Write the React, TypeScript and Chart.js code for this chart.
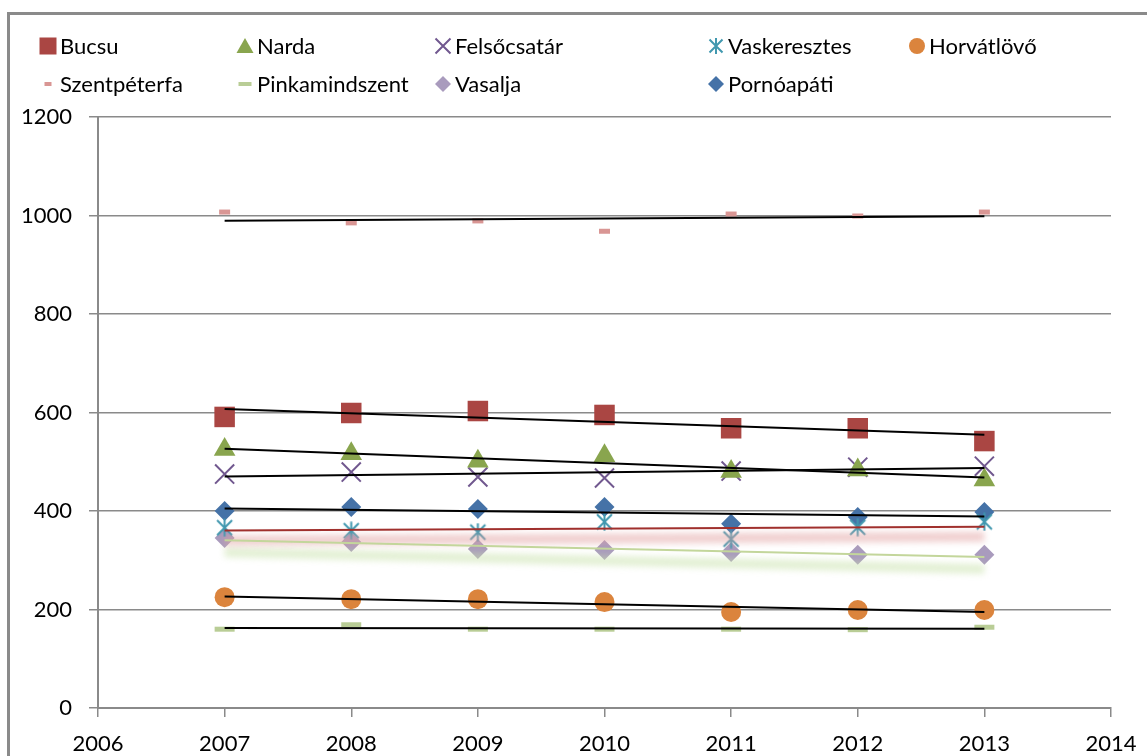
import React, { useEffect, useRef } from 'react';
import { Chart, registerables } from 'chart.js';
Chart.register(...registerables);

const years = [2007, 2008, 2009, 2010, 2011, 2012, 2013];
const xTickMin = 2006;
const xTickMax = 2014;
const yTickMax = 1200;
const yTickStep = 200;

const bucsu = [591, 599, 603, 595, 568, 568, 542];
const narda = [525, 516, 501, 512, 480, 483, 463];
const felsocsatar = [475, 479, 469, 467, 481, 489, 491];
const vaskeresztes = [366, 360, 357, 378, 343, 367, 378];
const horvatlovo = [225, 221, 221, 215, 195, 199, 199];
const szentpeterfa = [1007, 985, 989, 968, 1003, 999, 1007];
const pinkamindszent = [160, 169, 160, 160, 160, 159, 164];
const vasalja = [345, 337, 323, 321, 317, 311, 311];
const pornoapati = [400, 408, 404, 408, 374, 388, 398];

type Series = {
  label: string;
  values: number[];
  color: string;
  marker: 'rect' | 'triangle' | 'crossRot' | 'star' | 'circle' | 'dashS' | 'dashL' | 'diamond';
  trendColor: string;
  glow?: { color: string; dy: number };
};

const series: Series[] = [
  { label: 'Bucsu', values: bucsu, color: '#AA4643', marker: 'rect', trendColor: '#000' },
  { label: 'Narda', values: narda, color: '#89A54E', marker: 'triangle', trendColor: '#000' },
  { label: 'Felsőcsatár', values: felsocsatar, color: '#71588F', marker: 'crossRot', trendColor: '#000' },
  { label: 'Vaskeresztes', values: vaskeresztes, color: '#4198AF', marker: 'star', trendColor: '#A0302D', glow: { color: 'rgba(225,160,160,0.5)', dy: 10 } },
  { label: 'Horvátlövő', values: horvatlovo, color: '#DB843D', marker: 'circle', trendColor: '#000' },
  { label: 'Szentpéterfa', values: szentpeterfa, color: '#D99694', marker: 'dashS', trendColor: '#000' },
  { label: 'Pinkamindszent', values: pinkamindszent, color: '#B9CD96', marker: 'dashL', trendColor: '#000' },
  { label: 'Vasalja', values: vasalja, color: '#A99BBD', marker: 'diamond', trendColor: '#C3D69B', glow: { color: 'rgba(200,225,170,0.5)', dy: 12 } },
  { label: 'Pornóapáti', values: pornoapati, color: '#4572A7', marker: 'diamond', trendColor: '#000' },
];

const FONT = 'Lato';
const GRID = '#8a8a8a';
const LEGEND_COLS = [48, 245, 443, 716, 917];
const LEGEND_ROWS = [46, 84];

function makeStar(size: number, color: string) {
  const c = document.createElement('canvas');
  c.width = size;
  c.height = size;
  const g = c.getContext('2d')!;
  g.strokeStyle = color;
  g.lineWidth = 2;
  const m = 2;
  g.beginPath();
  g.moveTo(m, m); g.lineTo(size - m, size - m);
  g.moveTo(size - m, m); g.lineTo(m, size - m);
  g.moveTo(size / 2, 0.5); g.lineTo(size / 2, size - 0.5);
  g.stroke();
  return c;
}

function drawMarker(ctx: CanvasRenderingContext2D, s: Series, x: number, y: number) {
  ctx.save();
  ctx.fillStyle = s.color;
  ctx.strokeStyle = s.color;
  ctx.beginPath();
  switch (s.marker) {
    case 'rect':
      ctx.fillRect(x - 8.5, y - 8.5, 17, 17);
      break;
    case 'triangle':
      ctx.moveTo(x, y - 8); ctx.lineTo(x + 8.5, y + 7); ctx.lineTo(x - 8.5, y + 7); ctx.closePath(); ctx.fill();
      break;
    case 'crossRot':
      ctx.lineWidth = 2;
      ctx.moveTo(x - 7.5, y - 7.5); ctx.lineTo(x + 7.5, y + 7.5);
      ctx.moveTo(x + 7.5, y - 7.5); ctx.lineTo(x - 7.5, y + 7.5);
      ctx.stroke();
      break;
    case 'star':
      ctx.lineWidth = 2;
      ctx.moveTo(x - 6.5, y - 6.5); ctx.lineTo(x + 6.5, y + 6.5);
      ctx.moveTo(x + 6.5, y - 6.5); ctx.lineTo(x - 6.5, y + 6.5);
      ctx.moveTo(x, y - 8); ctx.lineTo(x, y + 8);
      ctx.stroke();
      break;
    case 'circle':
      ctx.arc(x, y, 8, 0, Math.PI * 2); ctx.fill();
      break;
    case 'dashS':
      ctx.fillRect(x - 3.5, y - 2, 7, 4);
      break;
    case 'dashL':
      ctx.fillRect(x - 6.5, y - 2, 13, 4);
      break;
    case 'diamond':
      ctx.moveTo(x, y - 8); ctx.lineTo(x + 8, y); ctx.lineTo(x, y + 8); ctx.lineTo(x - 8, y); ctx.closePath(); ctx.fill();
      break;
  }
  ctx.restore();
}

const legendPlugin = {
  id: 'gridLegend',
  afterDraw(chart: any) {
    const ctx = chart.ctx as CanvasRenderingContext2D;
    ctx.save();
    ctx.font = `22px ${FONT}`;
    ctx.textBaseline = 'middle';
    series.forEach((s, i) => {
      const row = i < 5 ? 0 : 1;
      const col = i < 5 ? i : i - 5;
      const cx = LEGEND_COLS[col];
      const cy = LEGEND_ROWS[row];
      drawMarker(ctx, s, cx, cy);
      ctx.fillStyle = '#000';
      ctx.fillText(s.label, cx + 12, cy + 1);
    });
    ctx.restore();
  },
};

const glowPlugin = {
  id: 'trendGlow',
  beforeDatasetDraw(chart: any, args: any) {
    const ds = chart.data.datasets[args.index];
    if (ds.glowDy) {
      const ctx = chart.ctx;
      ctx.save();
      ctx.translate(0, ds.glowDy);
      ctx.filter = 'blur(3px)';
    }
  },
  afterDatasetDraw(chart: any, args: any) {
    const ds = chart.data.datasets[args.index];
    if (ds.glowDy) chart.ctx.restore();
  },
};

function trendPoints(values: number[]) {
  const n = years.length;
  const mx = years.reduce((a, b) => a + b, 0) / n;
  const my = values.reduce((a, b) => a + b, 0) / n;
  let sxy = 0, sxx = 0;
  years.forEach((x, i) => { sxy += (x - mx) * (values[i] - my); sxx += (x - mx) * (x - mx); });
  const b = sxy / sxx;
  const a = my - b * mx;
  const x0 = years[0], x1 = years[n - 1];
  return [{ x: x0, y: a + b * x0 }, { x: x1, y: a + b * x1 }];
}

export default function App() {
  const ref = useRef<HTMLCanvasElement>(null);
  useEffect(() => {
    if (!ref.current) return;
    const markerDatasets = series.map((s) => {
      const base: any = {
        label: s.label,
        data: years.map((x, i) => ({ x, y: s.values[i] })),
        showLine: false,
        order: 2,
        backgroundColor: s.color,
        borderColor: s.color,
        borderWidth: 0,
      };
      switch (s.marker) {
        case 'rect': Object.assign(base, { pointStyle: 'rect', pointRadius: 14.5 }); break;
        case 'triangle': Object.assign(base, { pointStyle: 'triangle', pointRadius: 12.5 }); break;
        case 'crossRot': Object.assign(base, { pointStyle: 'crossRot', pointRadius: 13.5, borderWidth: 2 }); break;
        case 'star': Object.assign(base, { pointStyle: makeStar(19, s.color), pointRadius: 10 }); break;
        case 'circle': Object.assign(base, { pointStyle: 'circle', pointRadius: 10 }); break;
        case 'dashS': Object.assign(base, { pointStyle: 'line', pointRadius: 5.5, borderWidth: 5 }); break;
        case 'dashL': Object.assign(base, { pointStyle: 'line', pointRadius: 10, borderWidth: 5 }); break;
        case 'diamond': Object.assign(base, { pointStyle: 'rectRot', pointRadius: 10 }); break;
      }
      return base;
    });
    const trendDatasets = series.map((s) => ({
      label: s.label + ' trend',
      data: trendPoints(s.values),
      showLine: true,
      borderColor: s.trendColor,
      borderWidth: 2,
      pointRadius: 0,
      order: 0,
    }));
    const glowDatasets = series.filter((s) => s.glow).map((s) => ({
      label: s.label + ' glow',
      data: trendPoints(s.values),
      showLine: true,
      borderColor: s.glow!.color,
      borderWidth: 10,
      pointRadius: 0,
      order: 1,
      glowDy: s.glow!.dy,
    }));

    const chart = new Chart(ref.current, {
      type: 'scatter',
      data: { datasets: [...markerDatasets, ...glowDatasets, ...trendDatasets] as any },
      options: {
        responsive: false,
        animation: false,
        events: [],
        layout: { padding: { top: 117, right: 36, left: 0, bottom: 0 } },
        plugins: { legend: { display: false }, tooltip: { enabled: false } },
        scales: {
          x: {
            type: 'linear',
            min: xTickMin,
            max: xTickMax,
            afterFit: (s: any) => { s.height = 82; s.paddingLeft = 0; s.paddingRight = 0; },
            ticks: { stepSize: 1, padding: 14, color: '#000', font: { family: FONT, size: 22 }, callback: (v: any) => String(v) },
            grid: { drawOnChartArea: false, tickLength: 9, color: GRID, lineWidth: 1.5 },
            border: { color: GRID, width: 2 },
          },
          y: {
            min: 0,
            max: yTickMax,
            afterFit: (s: any) => { s.width = 98; },
            ticks: { stepSize: yTickStep, padding: 17, color: '#000', font: { family: FONT, size: 22 }, callback: (v: any) => String(v) },
            grid: { tickLength: 9, color: GRID, lineWidth: 1.5 },
            border: { color: GRID, width: 2 },
          },
        },
      } as any,
      plugins: [legendPlugin, glowPlugin],
    });
    return () => chart.destroy();
  }, []);

  return (
    <div style={{ position: 'absolute', left: 0, top: 0, width: 1147, height: 756, overflow: 'hidden', background: '#fff' }}>
      <div style={{ position: 'absolute', left: 7, top: 12, width: 1400, height: 1000, borderLeft: '3px solid #8a8a8a', borderTop: '3px solid #8a8a8a' }} />
      <canvas ref={ref} width={1147} height={790} style={{ position: 'absolute', left: 0, top: 0, display: 'block' }} />
    </div>
  );
}
